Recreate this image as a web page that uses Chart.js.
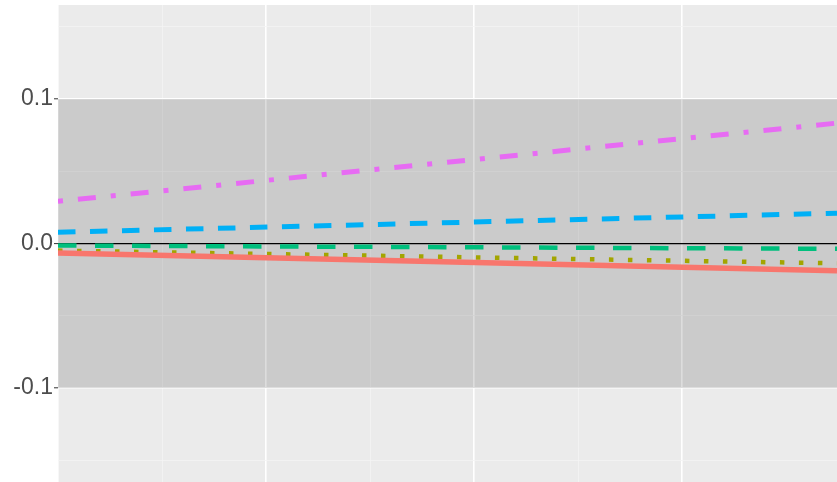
<!DOCTYPE html>
<html>
<head>
<meta charset="utf-8">
<script src="https://cdn.jsdelivr.net/npm/chart.js@4/dist/chart.umd.min.js"></script>
<style>
  html, body { margin: 0; padding: 0; background: #ffffff; }
  #wrap { width: 837px; height: 482px; position: relative; }
</style>
</head>
<body>
<div id="wrap"><canvas id="c" width="837" height="482"></canvas></div>
<script>
// ---- data ----
const xPoints   = [0, 3.745];                 // start / end of the visible x range
const xMin = 0, xMax = 3.745;
const yMin = -0.165, yMax = 0.165;
const yTickValues = [-0.15, -0.1, -0.05, 0, 0.05, 0.1, 0.15];
const yTickLabels = { '-0.1': '-0.1', '0': '0.0', '0.1': '0.1' };

const seriesRed     = [-0.0065, -0.0188];
const seriesOlive   = [-0.0049, -0.0137];
const seriesGreen   = [-0.0014, -0.0037];
const seriesBlue    = [0.0078, 0.0210];
const seriesMagenta = [0.0292, 0.0833];
const bandUpper = [0.1, 0.1];
const bandLower = [-0.1, -0.1];

const pts = (arr) => arr.map((y, i) => ({ x: xPoints[i], y }));

const panelBg = {
  id: 'panelBg',
  beforeDraw(chart) {
    const { ctx, chartArea: a } = chart;
    ctx.save();
    ctx.fillStyle = '#EBEBEB';
    ctx.fillRect(a.left, a.top, a.right - a.left, a.bottom - a.top);
    ctx.restore();
  }
};

const lineBase = { pointRadius: 0, borderCapStyle: 'butt', fill: false, tension: 0 };

new Chart(document.getElementById('c'), {
  type: 'line',
  plugins: [panelBg],
  data: {
    datasets: [
      { ...lineBase, data: pts(seriesRed), borderColor: '#F8766D', borderWidth: 5.5 },
      { ...lineBase, data: pts(seriesOlive), borderColor: '#A3A500', borderWidth: 4.5, borderDash: [4.5, 14.5] },
      { ...lineBase, data: pts(seriesGreen), borderColor: '#00BF7D', borderWidth: 4.5, borderDash: [18.5, 18.5] },
      { ...lineBase, data: pts(seriesBlue), borderColor: '#00B0F6', borderWidth: 5, borderDash: [17.5, 14.5] },
      { ...lineBase, data: pts(seriesMagenta), borderColor: '#E76BF3', borderWidth: 5, borderDash: [18, 15, 5, 15], borderDashOffset: 33 },
      { ...lineBase, data: pts(bandUpper), borderWidth: 0, borderColor: 'rgba(0,0,0,0)', backgroundColor: 'rgba(0,0,0,0.132)', fill: '+1', order: 10 },
      { ...lineBase, data: pts(bandLower), borderWidth: 0, borderColor: 'rgba(0,0,0,0)', fill: false, order: 10 }
    ]
  },
  options: {
    responsive: false,
    animation: false,
    devicePixelRatio: 1,
    layout: { padding: { top: 5, left: 0, right: 0, bottom: 0 } },
    plugins: { legend: { display: false }, tooltip: { enabled: false } },
    scales: {
      x: {
        type: 'linear',
        min: xMin, max: xMax,
        ticks: { display: false, stepSize: 0.5 },
        border: { display: false },
        afterFit: (s) => { s.height = 0; s.paddingLeft = 0; s.paddingRight = 0; },
        grid: {
          drawTicks: false,
          color: (c) => (Math.abs(c.tick.value - Math.round(c.tick.value)) < 1e-6 ? '#FFFFFF' : '#F4F4F4'),
          lineWidth: (c) => (Math.abs(c.tick.value - Math.round(c.tick.value)) < 1e-6 ? 1.6 : 0.8)
        }
      },
      y: {
        type: 'linear',
        min: yMin, max: yMax,
        afterBuildTicks: (s) => { s.ticks = yTickValues.map(v => ({ value: v })); },
        afterFit: (s) => { s.width = 58; s.paddingTop = 0; s.paddingBottom = 0; },
        border: { display: false },
        ticks: {
          font: { family: 'Liberation Sans, Arial, sans-serif', size: 23 },
          color: '#4D4D4D',
          padding: 1,
          callback: (v) => { const k = String(Math.round(v * 100) / 100); return yTickLabels[k] !== undefined ? yTickLabels[k] : ''; }
        },
        grid: {
          tickLength: 4,
          tickColor: (c) => (yTickLabels[String(Math.round(c.tick.value * 100) / 100)] !== undefined ? '#333333' : 'rgba(0,0,0,0)'),
          tickWidth: 1,
          color: (c) => {
            const v = Math.round(c.tick.value * 100) / 100;
            if (v === 0) return '#000000';
            return Math.abs(v) === 0.1 ? '#FFFFFF' : '#F4F4F4';
          },
          lineWidth: (c) => {
            const v = Math.round(c.tick.value * 100) / 100;
            if (v === 0) return 1.2;
            return Math.abs(v) === 0.1 ? 1.6 : 0.8;
          }
        }
      }
    }
  }
});
</script>
</body>
</html>
